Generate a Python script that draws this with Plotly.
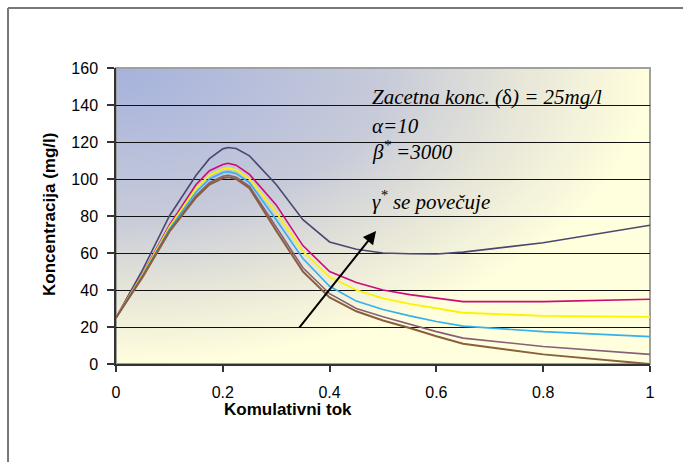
import base64
import plotly.graph_objects as go

x_vals = [0, 0.05, 0.1, 0.15, 0.175, 0.2, 0.21, 0.225, 0.25, 0.3, 0.35, 0.4, 0.45, 0.5, 0.55, 0.6, 0.65, 0.8, 1.0]
s1 = [25, 51, 80, 102, 111, 116.3, 117, 116.5, 112.5, 97, 78, 66, 62, 60, 59.6, 59.5, 60.5, 65.5, 75]
s2 = [25, 49, 75, 97, 104.5, 107.8, 108.5, 107.5, 102.5, 86, 64, 50, 44, 40, 37.5, 35.5, 33.7, 33.7, 35]
s3 = [25, 48.5, 74, 95, 102, 105.3, 105.8, 105, 100, 82, 61, 47, 40, 35.5, 32.5, 30, 27.7, 26, 25.5]
s4 = [25, 48, 73, 93, 100, 103.5, 104, 103, 98, 78, 57, 42, 34, 29.5, 26, 23, 20.5, 17.5, 14.8]
s5 = [25, 47.5, 72, 91, 98, 101.5, 102, 101, 96, 74, 52, 38, 30, 25.5, 21.5, 17.5, 14, 9.5, 5.2]
s6 = [25, 47, 71.5, 90, 97, 100.5, 101, 100, 95, 72, 50, 36, 28.5, 23.5, 19.5, 15, 11, 5.2, 0]
series = [s1, s2, s3, s4, s5, s6]
colors = ["#4A4870", "#CC0A7A", "#FFF200", "#33B0EE", "#856078", "#8B5E3C"]
widths = [1.6, 1.6, 1.8, 1.6, 1.6, 2.0]

x_ticks = [0, 0.2, 0.4, 0.6, 0.8, 1]
x_tick_text = ["0", "0.2", "0.4", "0.6", "0.8", "1"]
y_ticks = [0, 20, 40, 60, 80, 100, 120, 140, 160]

fig = go.Figure()
for s, c, w in zip(series, colors, widths):
    fig.add_trace(go.Scatter(x=x_vals, y=s, mode="lines",
                             line=dict(color=c, width=w), showlegend=False,
                             hoverinfo="skip"))

svg = ('<svg xmlns="http://www.w3.org/2000/svg" width="534" height="296" '
       'viewBox="0 0 534 296" preserveAspectRatio="none">'
       '<defs><radialGradient id="g" cx="0" cy="0" r="1" '
       'gradientUnits="objectBoundingBox">'
       '<stop offset="0" stop-color="#A6B2DD"/>'
       '<stop offset="0.5" stop-color="#C6CAD9"/>'
       '<stop offset="0.75" stop-color="#E6E5D8"/>'
       '<stop offset="1" stop-color="#FFFEDD"/>'
       '</radialGradient></defs>'
       '<rect x="0" y="0" width="534" height="296" fill="url(#g)"/></svg>')
uri = "data:image/svg+xml;base64," + base64.b64encode(svg.encode()).decode()

serif = dict(family="Liberation Serif, Times New Roman", size=21)

fig.update_layout(
    width=683, height=462,
    margin=dict(l=116, r=33, t=68, b=98),
    paper_bgcolor="white",
    plot_bgcolor="rgba(0,0,0,0)",
    font=dict(family="Liberation Sans, Arial", color="black"),
    images=[dict(source=uri, xref="paper", yref="paper", x=0, y=1,
                 sizex=1, sizey=1, sizing="stretch", layer="below",
                 xanchor="left", yanchor="top")],
    xaxis=dict(range=[0, 1], tickvals=x_ticks, ticktext=x_tick_text,
               showgrid=False, zeroline=False, showline=True,
               linecolor="#333", linewidth=1.5, ticks="outside",
               ticklen=6, tickcolor="#333", tickwidth=1.5,
               tickfont=dict(size=16), ticklabelstandoff=7),
    yaxis=dict(range=[0, 160], tickvals=y_ticks,
               showgrid=True, gridcolor="#111", gridwidth=1,
               zeroline=False, showline=True, linecolor="#333",
               linewidth=1.5, ticks="outside", ticklen=7,
               tickcolor="#333", tickwidth=1.5,
               tickfont=dict(size=16), ticklabelstandoff=6),
    shapes=[
        dict(type="rect", xref="paper", yref="paper", x0=0, y0=0, x1=1, y1=1,
             line=dict(color="#A0A0A0", width=2), layer="below"),
        dict(type="line", xref="paper", yref="paper",
             x0=-0.2022, x1=1.07, y0=1.203, y1=1.203,
             line=dict(color="#777", width=2)),
        dict(type="line", xref="paper", yref="paper",
             x0=-0.2022, x1=-0.2022, y0=1.203, y1=-0.34,
             line=dict(color="#777", width=2)),
    ],
    annotations=[
        dict(text="<b>Komulativni tok</b>", xref="paper", yref="paper",
             x=(288 - 116) / 534, y=(364 - 409) / 296, showarrow=False,
             xanchor="center", yanchor="middle", font=dict(size=17)),
        dict(text="<b>Koncentracija (mg/l)</b>", xref="paper", yref="paper",
             x=(49 - 116) / 534, y=(364 - 215) / 296, showarrow=False,
             textangle=-90, xanchor="center", yanchor="middle",
             font=dict(size=17)),
        dict(text="<i>Zacetna konc. (</i>δ<i>) = 25mg/l</i>", xref="paper",
             yref="paper", x=(370 - 116) / 534, y=(364 - 97) / 296,
             showarrow=False, xanchor="left", yanchor="middle", font=serif),
        dict(text="<i>α=10</i>", xref="paper", yref="paper",
             x=(370 - 116) / 534, y=(364 - 126) / 296,
             showarrow=False, xanchor="left", yanchor="middle", font=serif),
        dict(text="<i>β<sup>*</sup> =3000</i>", xref="paper", yref="paper",
             x=(370 - 116) / 534, y=(364 - 150) / 296,
             showarrow=False, xanchor="left", yanchor="middle", font=serif),
        dict(text="<i>γ<sup>*</sup> se povečuje</i>", xref="paper", yref="paper",
             x=(370 - 116) / 534, y=(364 - 200) / 296,
             showarrow=False, xanchor="left", yanchor="middle", font=serif),
        dict(x=0.487, y=71.9, ax=0.341, ay=18.9, xref="x", yref="y",
             axref="x", ayref="y", showarrow=True, arrowhead=2,
             arrowsize=1.3, arrowwidth=2, arrowcolor="black", text=""),
    ],
)

fig.write_html("out.html")
